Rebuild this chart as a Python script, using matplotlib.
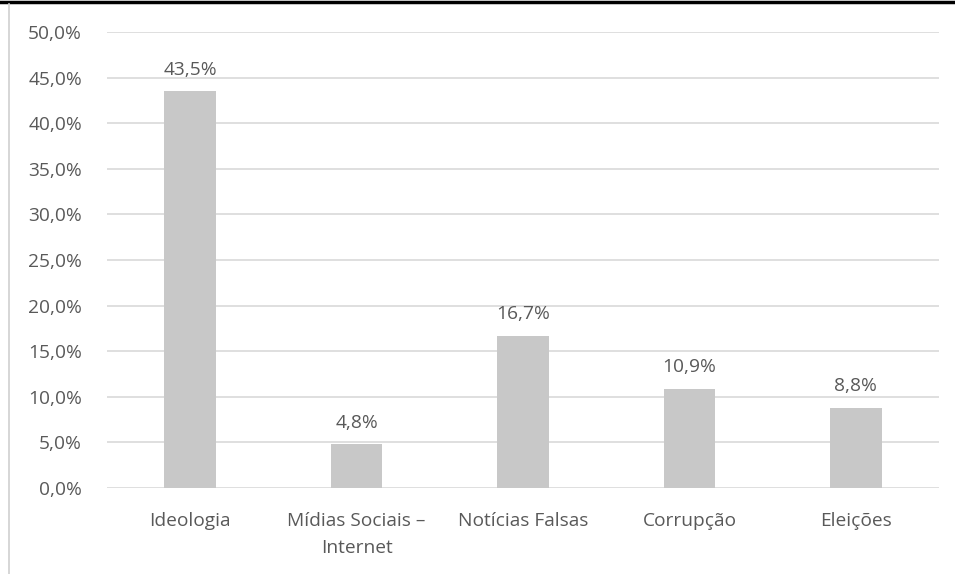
import matplotlib
matplotlib.use("Agg")
import matplotlib.pyplot as plt
from matplotlib.lines import Line2D
from matplotlib.ticker import FuncFormatter, MultipleLocator

categories = ["Ideologia", "Mídias Sociais –\nInternet", "Notícias Falsas", "Corrupção", "Eleições"]
values = [43.5, 4.8, 16.7, 10.9, 8.8]
value_labels = ["43,5%", "4,8%", "16,7%", "10,9%", "8,8%"]

plt.rcParams['font.family'] = ['Open Sans', 'DejaVu Sans']
txt = '#595959'
fs = 13.8

fig = plt.figure(figsize=(9.55, 5.74), dpi=100)
ax = fig.add_axes([107/955, 1-488/574, (939-107)/955, (488-32)/574])

x = range(len(categories))
bars = ax.bar(x, values, width=0.31, color='#c8c8c8', zorder=3)
for xi, v, lab in zip(x, values, value_labels):
    ax.annotate(lab, (xi, v), xytext=(0, 9), textcoords='offset points',
                ha='center', va='bottom', fontsize=fs, color=txt)

ax.set_xlim(-0.5, len(categories)-0.5)
ax.set_ylim(0, 50)
ax.yaxis.set_major_locator(MultipleLocator(5))
ax.yaxis.set_major_formatter(FuncFormatter(lambda v, p: f"{v:.1f}%".replace('.', ',')))
ax.set_xticks(list(x))
ax.set_xticklabels(categories, linespacing=1.65)
ax.tick_params(axis='both', length=0, labelsize=fs, labelcolor=txt)
ax.tick_params(axis='x', pad=17)
ax.tick_params(axis='y', pad=18)
ax.grid(axis='y', color='#d9d9d9', linewidth=1.2, zorder=0)
for s in ax.spines.values():
    s.set_visible(False)

fig.add_artist(Line2D([0, 1], [1-1.5/574, 1-1.5/574], color='black', linewidth=2.5))
fig.add_artist(Line2D([8.5/955, 8.5/955], [0, 1-4/574], color='#d0d0d0', linewidth=1.2))

fig.savefig("out.png", dpi=100)
